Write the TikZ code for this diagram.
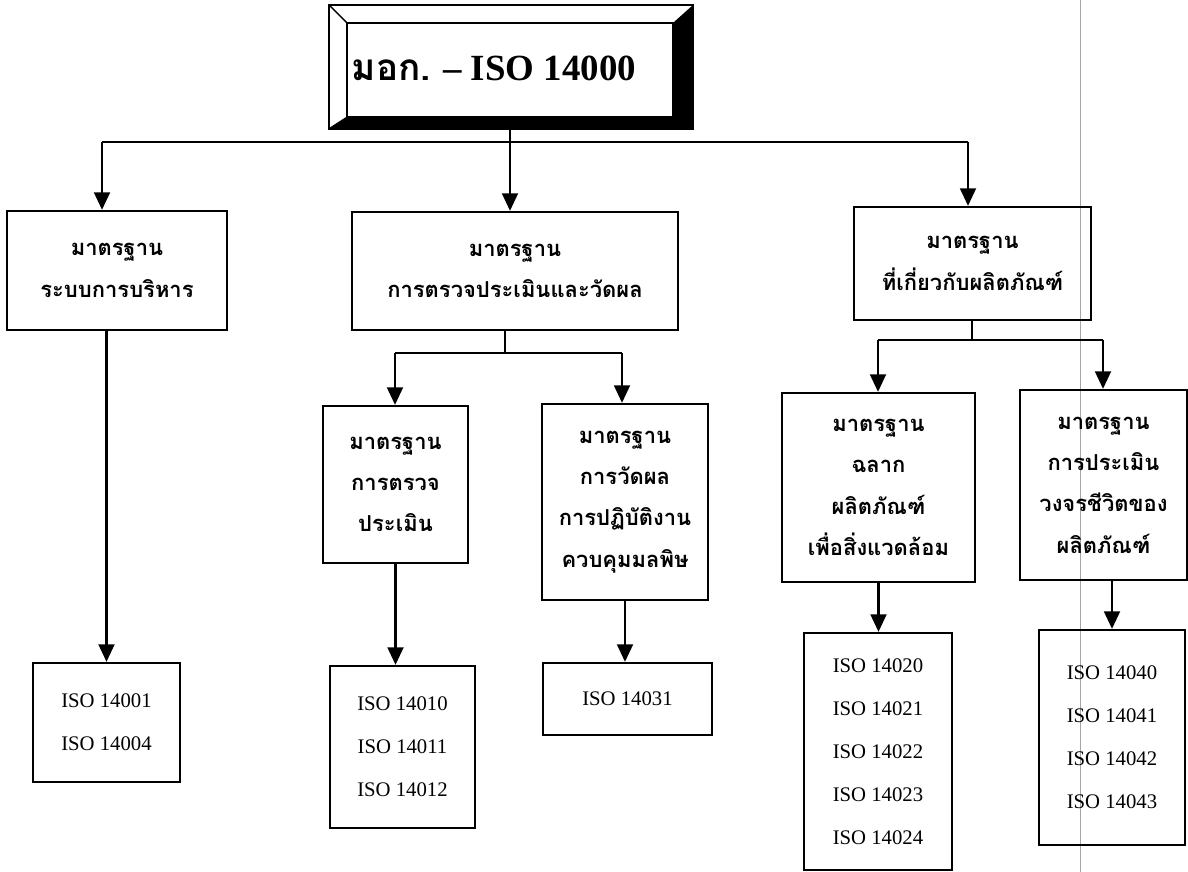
\documentclass[tikz,border=0pt]{standalone}
\usepackage{fontspec}
\setmainfont{Liberation Serif}
\newfontfamily\thaifont[Script=Thai]{Loma}
\usetikzlibrary{arrows.meta}

\tikzset{
  stdbox/.style={draw, line width=1.3pt, align=center, inner sep=0pt,
    font=\thaifont\bfseries\fontsize{12.5}{23.5}\selectfont},
  isobox/.style={draw, line width=1.3pt, align=center, inner sep=0pt,
    font=\fontsize{11.8}{24.4}\selectfont},
  arr/.style={line width=1.4pt, -{Triangle[length=10pt, width=9pt]}},
  link/.style={line width=1.4pt}
}

\begin{document}
\begin{tikzpicture}[x=0.02cm, y=-0.02cm]
\useasboundingbox (0,0) rectangle (1188,872);
\draw[gray!70, line width=0.4pt] (1080,0) -- (1080,872);

\node[draw, line width=0.8pt, minimum width=6.52cm, minimum height=1.88cm] (title) at (510,70) {};
\fill ([shift={(19,-17)}]title.north east) -- (title.north east) -- (title.south east)
  -- (title.south west) -- ([shift={(-17,11)}]title.south west)
  -- ([shift={(19,11)}]title.south east) -- cycle;
\draw[line width=1pt] ([shift={(-17,-17)}]title.north west) rectangle ([shift={(19,11)}]title.south east);
\draw[line width=0.8pt] ([shift={(-17,-17)}]title.north west) -- (title.north west);
\draw[line width=0.8pt] ([shift={(-17,11)}]title.south west) -- (title.south west);
\node[anchor=west, inner sep=0pt, font=\fontsize{21}{25}\selectfont\bfseries] (titletext) at ([xshift=3pt,yshift=1pt]title.west)
  {{\thaifont มอก.} – ISO 14000};

\node[stdbox, minimum width=4.4cm, minimum height=2.38cm] (sysbox) at (117,270.5) {มาตรฐาน\\ระบบการบริหาร};
\node[stdbox, minimum width=6.52cm, minimum height=2.36cm] (auditbox) at (515,271) {มาตรฐาน\\การตรวจประเมินและวัดผล};
\node[stdbox, minimum width=4.74cm, minimum height=2.26cm] (prodbox) at (972.5,263.5) {มาตรฐาน\\ที่เกี่ยวกับผลิตภัณฑ์};

\node[stdbox, minimum width=2.9cm, minimum height=3.14cm] (evalbox) at (395.5,484.5) {มาตรฐาน\\การตรวจ\\ประเมิน};
\node[stdbox, minimum width=3.32cm, minimum height=3.92cm] (perfbox) at (625,502) {มาตรฐาน\\การวัดผล\\การปฏิบัติงาน\\ควบคุมมลพิษ};
\node[stdbox, minimum width=3.86cm, minimum height=3.78cm] (labelbox) at (878.5,487.5) {มาตรฐาน\\ฉลาก\\ผลิตภัณฑ์\\เพื่อสิ่งแวดล้อม};
\node[stdbox, minimum width=3.34cm, minimum height=3.8cm] (lcabox) at (1103.5,485) {มาตรฐาน\\การประเมิน\\วงจรชีวิตของ\\ผลิตภัณฑ์};

\node[isobox, minimum width=2.94cm, minimum height=2.38cm] (isosys) at (106.5,722.5) {ISO 14001\\ISO 14004};
\node[isobox, minimum width=2.9cm, minimum height=3.24cm] (isoeval) at (402.5,747) {ISO 14010\\ISO 14011\\ISO 14012};
\node[isobox, minimum width=3.38cm, minimum height=1.44cm] (isoperf) at (627.5,699) {ISO 14031};
\node[isobox, minimum width=2.96cm, minimum height=4.74cm] (isolabel) at (878,751.5) {ISO 14020\\ISO 14021\\ISO 14022\\ISO 14023\\ISO 14024};
\node[isobox, minimum width=2.92cm, minimum height=4.3cm] (isolca) at (1112,737.5) {ISO 14040\\ISO 14041\\ISO 14042\\ISO 14043};

\coordinate (busl) at (102,142);
\coordinate (busr) at (968,142);
\draw[link] (busl) -- (busr);
\draw[arr] (busl) -- (busl |- sysbox.north);
\draw[arr] (busr) -- (busr |- prodbox.north);
\draw[arr] (title.south) -- (title.south |- auditbox.north);

\coordinate (auditbus) at (505,353);
\coordinate (auditl) at (395,353);
\coordinate (auditr) at (622,353);
\draw[link] (auditbus |- auditbox.south) -- (auditbus);
\draw[link] (auditl) -- (auditr);
\draw[arr] (auditl) -- (auditl |- evalbox.north);
\draw[arr] (auditr) -- (auditr |- perfbox.north);

\coordinate (prodbus) at (972,340);
\coordinate (prodl) at (878,340);
\coordinate (prodr) at (1103,340);
\draw[link] (prodbus |- prodbox.south) -- (prodbus);
\draw[link] (prodl) -- (prodr);
\draw[arr] (prodl) -- (prodl |- labelbox.north);
\draw[arr] (prodr) -- (prodr |- lcabox.north);

\draw[arr] (sysbox.south -| isosys.north) -- (isosys.north);
\draw[arr] (evalbox.south) -- (evalbox.south |- isoeval.north);
\draw[arr] (perfbox.south) -- (perfbox.south |- isoperf.north);
\draw[arr] (labelbox.south) -- (labelbox.south |- isolabel.north);
\draw[arr] (isolca.north |- lcabox.south) -- (isolca.north);
\end{tikzpicture}
\end{document}
